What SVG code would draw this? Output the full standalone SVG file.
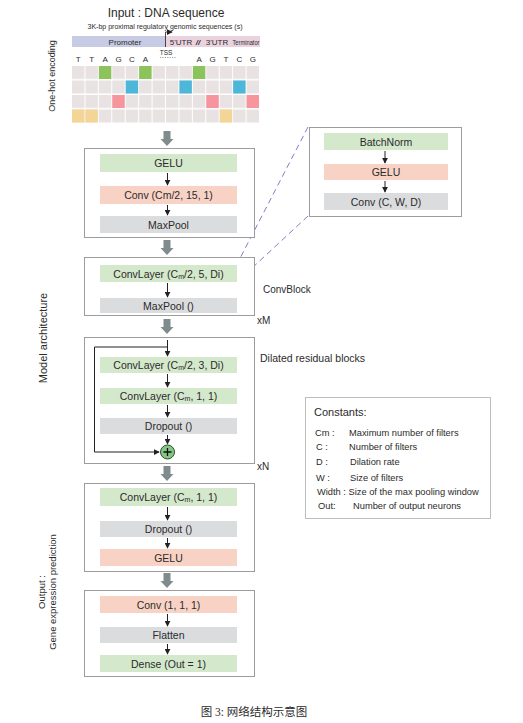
<svg xmlns="http://www.w3.org/2000/svg" width="523" height="723" viewBox="0 0 523 723">
<style>
text{font-family:"Liberation Sans",Arial,sans-serif;fill:#2b2b2b}
.t{font-size:10.5px;text-anchor:middle}
.frame{fill:#fff;stroke:#9c9c9c;stroke-width:1}
.g{fill:#d4e8cc}
.p{fill:#f8d3c5}
.y{fill:#dbdcde}
.sa{stroke:#222;stroke-width:1;fill:none;marker-end:url(#ah)}
.dash{stroke:#7b80c8;stroke-width:1;stroke-dasharray:6 4;fill:none}
.big{fill:#7f8b8c}
.cl{font-size:9.3px}
</style>
<defs>
<marker id="ah" viewBox="0 0 8 8" refX="7" refY="4" markerWidth="6" markerHeight="6" orient="auto" markerUnits="userSpaceOnUse">
<path d="M0,0 L8,4 L0,8 z" fill="#222"/>
</marker>
<path id="bigArrow" d="M-3.5,0 h7 v8 h3 l-6.5,7 l-6.5,-7 h3 z"/>
<pattern id="cells" patternUnits="userSpaceOnUse" x="72" y="66" width="13.43" height="14.5">
<rect x="0" y="0" width="12.4" height="13" fill="#e8e2e2"/>
</pattern>
</defs>

<g id="input">
<text x="166" y="17" style="font-size:12px;text-anchor:middle">Input : DNA sequence</text>
<text x="165" y="29" style="font-size:8px;text-anchor:middle" textLength="155" lengthAdjust="spacingAndGlyphs">3K-bp proximal regulatory genomic sequences (s)</text>
<rect x="72" y="36" width="94" height="11" fill="#c7cbe4"/>
<rect x="166" y="36" width="94" height="11" fill="#ead3de"/>
<g style="font-size:8px;text-anchor:middle">
<text x="125" y="44.5">Promoter</text>
<text x="181" y="44.5">5'UTR</text>
<text x="198" y="44.5" style="font-style:italic;font-weight:bold">//</text>
<text x="217" y="44.5">3'UTR</text>
<text x="246" y="44.5" textLength="27" lengthAdjust="spacingAndGlyphs">Terminator</text>
</g>
<path d="M165.5,47 V32 H172" class="sa" style="stroke-width:0.8"/>
<text x="166" y="55" style="font-size:6.5px;text-anchor:middle">TSS</text>
<line x1="160" y1="57.5" x2="176" y2="57.5" stroke="#888" stroke-width="0.8" stroke-dasharray="1.2 1.2"/>
<g style="font-size:8px;text-anchor:middle">
<text x="78.2" y="62">T</text>
<text x="91.6" y="62">T</text>
<text x="105.1" y="62">A</text>
<text x="118.5" y="62">G</text>
<text x="131.9" y="62">C</text>
<text x="145.4" y="62">A</text>
<text x="199.1" y="62">A</text>
<text x="212.5" y="62">G</text>
<text x="225.9" y="62">T</text>
<text x="239.4" y="62">C</text>
<text x="252.8" y="62">G</text>
</g>
<rect x="72" y="66" width="188" height="58" fill="url(#cells)"/>
<g fill="#8cc35a">
<rect x="98.86" y="66" width="12.4" height="13"/>
<rect x="139.15" y="66" width="12.4" height="13"/>
<rect x="192.87" y="66" width="12.4" height="13"/>
</g>
<g fill="#4db7d9">
<rect x="125.72" y="80.5" width="12.4" height="13"/>
<rect x="179.44" y="80.5" width="12.4" height="13"/>
<rect x="233.16" y="80.5" width="12.4" height="13"/>
</g>
<g fill="#f6959e">
<rect x="112.29" y="95" width="12.4" height="13"/>
<rect x="206.3" y="95" width="12.4" height="13"/>
<rect x="246.59" y="95" width="12.4" height="13"/>
</g>
<g fill="#f3d596">
<rect x="72" y="109.5" width="12.4" height="13"/>
<rect x="85.43" y="109.5" width="12.4" height="13"/>
<rect x="219.73" y="109.5" width="12.4" height="13"/>
</g>
</g>

<g id="side-labels" style="font-size:9.5px;text-anchor:middle">
<text transform="translate(55,76) rotate(-90)" style="font-size:9px">One-hot encoding</text>
<text transform="translate(47,338) rotate(-90)" style="font-size:11px">Model architecture</text>
<text transform="translate(45,592) rotate(-90)">Output :</text>
<text transform="translate(56,592) rotate(-90)">Gene expression prediction</text>
</g>

<g id="big-arrows" class="big">
<use href="#bigArrow" x="167" y="131"/>
<use href="#bigArrow" x="167" y="240"/>
<use href="#bigArrow" x="167" y="319"/>
<use href="#bigArrow" x="167" y="466"/>
<use href="#bigArrow" x="167" y="573"/>
</g>

<g id="connectors">
<line x1="308" y1="127" x2="236" y2="266" class="dash"/>
<line x1="308" y1="216" x2="237" y2="282" class="dash"/>
</g>

<g id="block1">
<rect x="84.5" y="148.5" width="170" height="89" class="frame"/>
<rect x="100" y="154" width="137" height="18" class="g"/>
<text x="168.5" y="167" class="t">GELU</text>
<line x1="167.5" y1="173" x2="167.5" y2="185" class="sa"/>
<rect x="100" y="186" width="137" height="18" class="p"/>
<text x="168.5" y="199" class="t">Conv (Cm/2, 15, 1)</text>
<line x1="167.5" y1="205" x2="167.5" y2="215" class="sa"/>
<rect x="100" y="216" width="137" height="17" class="y"/>
<text x="168.5" y="228.5" class="t">MaxPool</text>
</g>

<g id="inset">
<rect x="309.5" y="127.5" width="152" height="89" class="frame"/>
<rect x="324" y="133" width="124" height="17" class="g"/>
<text x="386" y="145.5" class="t">BatchNorm</text>
<line x1="385" y1="151" x2="385" y2="163" class="sa"/>
<rect x="324" y="164" width="124" height="16" class="p"/>
<text x="386" y="176" class="t">GELU</text>
<line x1="385" y1="181" x2="385" y2="192" class="sa"/>
<rect x="324" y="193" width="124" height="17" class="y"/>
<text x="386" y="205.5" class="t">Conv (C, W, D)</text>
</g>

<g id="block2">
<rect x="84.5" y="257.5" width="170" height="58" class="frame"/>
<rect x="100" y="265" width="137" height="17" class="g"/>
<text x="168.5" y="277.5" class="t">ConvLayer  (C<tspan style="font-size:7px" dy="1">m</tspan><tspan dy="-1">/2, 5, Di)</tspan></text>
<line x1="167.5" y1="283" x2="167.5" y2="297" class="sa"/>
<rect x="100" y="298" width="137" height="15" class="y"/>
<text x="168.5" y="309.5" class="t">MaxPool ()</text>
<text x="263" y="293" style="font-size:10px">ConvBlock</text>
<text x="257" y="324" style="font-size:10px">xM</text>
</g>

<g id="block3">
<rect x="84.5" y="337.5" width="170" height="126" class="frame"/>
<line x1="167.5" y1="340" x2="167.5" y2="356" class="sa"/>
<path d="M167.5,347 H94.5 V452 H159" class="sa"/>
<rect x="100" y="357" width="137" height="16" class="g"/>
<text x="168.5" y="369" class="t">ConvLayer  (C<tspan style="font-size:7px" dy="1">m</tspan><tspan dy="-1">/2, 3, Di)</tspan></text>
<line x1="167.5" y1="374" x2="167.5" y2="387" class="sa"/>
<rect x="100" y="388" width="137" height="16" class="g"/>
<text x="168.5" y="400" class="t">ConvLayer  (C<tspan style="font-size:7px" dy="1">m</tspan><tspan dy="-1">, 1, 1)</tspan></text>
<line x1="167.5" y1="405" x2="167.5" y2="417" class="sa"/>
<rect x="100" y="418" width="137" height="16" class="y"/>
<text x="168.5" y="430" class="t">Dropout  ()</text>
<line x1="167.5" y1="435" x2="167.5" y2="444" class="sa"/>
<circle cx="167.5" cy="452" r="7" fill="#86c585" stroke="#2f4f2f" stroke-width="1"/>
<path d="M163.5,452 H171.5 M167.5,448 V456" stroke="#111" stroke-width="1.3"/>
<text x="260" y="362" style="font-size:10.5px">Dilated residual blocks</text>
<text x="257" y="470" style="font-size:10px">xN</text>
</g>

<g id="block4">
<rect x="84.5" y="483.5" width="170" height="88" class="frame"/>
<rect x="100" y="488" width="137" height="18" class="g"/>
<text x="168.5" y="501" class="t">ConvLayer  (C<tspan style="font-size:7px" dy="1">m</tspan><tspan dy="-1">, 1, 1)</tspan></text>
<line x1="167.5" y1="507" x2="167.5" y2="520" class="sa"/>
<rect x="100" y="521" width="137" height="16" class="y"/>
<text x="168.5" y="533" class="t">Dropout  ()</text>
<line x1="167.5" y1="538" x2="167.5" y2="548" class="sa"/>
<rect x="100" y="549" width="137" height="17" class="p"/>
<text x="168.5" y="561.5" class="t">GELU</text>
</g>

<g id="block5">
<rect x="84.5" y="590.5" width="170" height="86" class="frame"/>
<rect x="100" y="596" width="137" height="17" class="p"/>
<text x="168.5" y="608.5" class="t">Conv (1, 1, 1)</text>
<line x1="167.5" y1="614" x2="167.5" y2="626" class="sa"/>
<rect x="100" y="627" width="137" height="16" class="y"/>
<text x="168.5" y="639" class="t">Flatten</text>
<line x1="167.5" y1="644" x2="167.5" y2="654" class="sa"/>
<rect x="100" y="655" width="137" height="17" class="g"/>
<text x="168.5" y="667.5" class="t">Dense (Out = 1)</text>
</g>

<g id="constants">
<rect x="305.5" y="397.5" width="185" height="121" fill="#fff" stroke="#bdbdbd" stroke-width="1"/>
<text x="314" y="416" style="font-size:11px">Constants:</text>
<g class="cl">
<text x="315" y="436">Cm :</text><text x="349" y="436">Maximum number of filters</text>
<text x="316" y="450">C :</text><text x="349" y="450">Number of filters</text>
<text x="316" y="465">D :</text><text x="350" y="465">Dilation rate</text>
<text x="316" y="481">W :</text><text x="350" y="481">Size of  filters</text>
<text x="317" y="495">Width : Size of the max pooling window</text>
<text x="318" y="509">Out:</text><text x="353" y="509">Number of output neurons</text>
</g>
</g>

<text x="254" y="716" style="font-family:'Liberation Serif','Noto Sans CJK SC',serif;font-size:11.5px;text-anchor:middle">图 3: 网络结构示意图</text>
</svg>
